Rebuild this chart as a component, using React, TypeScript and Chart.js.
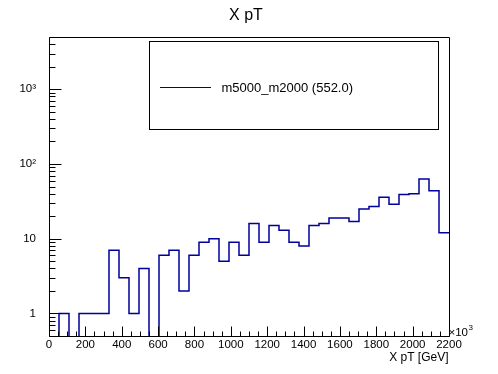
import React, { useEffect, useRef } from "react";
import { Chart, registerables } from "chart.js";

Chart.register(...registerables);

// ---- data ----
const X_MIN = 0;
const X_MAX = 2200;
const BIN_WIDTH = 55;
const binCounts = [
  0, 1, 0, 1, 1, 1, 7, 3, 1, 4,
  0, 6, 7, 2, 6, 9, 10, 5, 9, 6,
  16, 9, 15, 13, 9, 8, 15, 16, 19, 19,
  17, 25, 27, 36, 29, 39, 40, 63, 44, 12,
];
const xTickValues = [0, 200, 400, 600, 800, 1000, 1200, 1400, 1600, 1800, 2000, 2200];
const yTickValues = [1, 10, 100, 1000];
const yTickLabels = ["1", "10", "10²", "10³"];
const Y_MIN = 0.5;
const Y_MAX = 5000;
const titleText = "X pT";
const legendLabel = "m5000_m2000 (552.0)";
const xAxisTitle = "X pT [GeV]";
const xExponentBase = "×10";
const xExponent = "3";

const FONT = "'Liberation Sans', Arial, Helvetica, sans-serif";
const HIST_COLOR = "#00009c";

const rootDecor = {
  id: "rootDecor",
  afterDraw(chart: any) {
    const { ctx, chartArea: a, scales } = chart;
    const xs = scales.x;
    const ys = scales.y;
    ctx.save();
    ctx.strokeStyle = "#000";
    ctx.lineWidth = 1;
    const L = Math.round(a.left) + 0.5;
    const R = Math.round(a.right) + 0.5;
    const T = Math.round(a.top) + 0.5;
    const B = Math.round(a.bottom) + 0.5;
    // frame
    ctx.beginPath();
    ctx.moveTo(L, T);
    ctx.lineTo(R, T);
    ctx.lineTo(R, B);
    ctx.lineTo(L, B);
    ctx.closePath();
    ctx.stroke();
    // x ticks (inward)
    ctx.beginPath();
    for (let v = X_MIN; v <= X_MAX; v += 50) {
      const px = Math.round(xs.getPixelForValue(v)) + 0.5;
      const len = v % 200 === 0 ? 10 : 5;
      ctx.moveTo(px, B);
      ctx.lineTo(px, B - len);
    }
    // y ticks (inward, log)
    for (let d = -1; d <= 3; d++) {
      for (let m = 1; m <= 9; m++) {
        const v = m * Math.pow(10, d);
        if (v < Y_MIN || v > Y_MAX) continue;
        const py = Math.round(ys.getPixelForValue(v)) + 0.5;
        const len = m === 1 ? 12 : 6;
        ctx.moveTo(L, py);
        ctx.lineTo(L + len, py);
      }
    }
    ctx.stroke();

    // title
    ctx.fillStyle = "#000";
    ctx.font = `16px ${FONT}`;
    ctx.textAlign = "center";
    ctx.textBaseline = "alphabetic";
    ctx.fillText(titleText, 246, 20);

    // x axis title
    ctx.font = `12px ${FONT}`;
    ctx.textAlign = "right";
    ctx.fillText(xAxisTitle, R - 1, 361);

    // x10^3
    ctx.font = `11.5px ${FONT}`;
    ctx.textAlign = "left";
    ctx.fillText(xExponentBase, R - 1, 336);
    const w = ctx.measureText(xExponentBase).width;
    ctx.font = `8px ${FONT}`;
    ctx.fillText(xExponent, R - 1 + w + 0.5, 330);

    // legend
    ctx.strokeStyle = "#000";
    ctx.lineWidth = 1;
    ctx.strokeRect(149.5, 41.5, 289, 88);
    ctx.strokeStyle = HIST_COLOR;
    ctx.beginPath();
    ctx.moveTo(160, 87.5);
    ctx.lineTo(211, 87.5);
    ctx.stroke();
    ctx.fillStyle = "#000";
    ctx.font = `13px ${FONT}`;
    ctx.textAlign = "left";
    ctx.textBaseline = "middle";
    ctx.fillText(legendLabel, 221.5, 88);
    ctx.restore();
  },
};

export default function App() {
  const ref = useRef<HTMLCanvasElement | null>(null);
  useEffect(() => {
    if (!ref.current) return;
    const points: { x: number; y: number }[] = binCounts.map((c, i) => ({
      x: X_MIN + i * BIN_WIDTH,
      y: c > 0 ? c : 0.01,
    }));
    points.push({ x: X_MAX, y: binCounts[binCounts.length - 1] });

    const chart = new Chart(ref.current, {
      type: "line",
      data: {
        datasets: [
          {
            label: legendLabel,
            data: points,
            borderColor: HIST_COLOR,
            borderWidth: 1.5,
            stepped: "before",
            pointRadius: 0,
            fill: false,
            tension: 0,
            clip: 0,
          } as any,
        ],
      },
      options: {
        responsive: false,
        animation: false,
        devicePixelRatio: 1,
        layout: { padding: { top: 37, right: 49, left: 0, bottom: 0 } },
        plugins: {
          legend: { display: false },
          tooltip: { enabled: false },
          title: { display: false },
        },
        scales: {
          x: {
            type: "linear",
            min: X_MIN,
            max: X_MAX,
            grid: { display: false },
            border: { display: false },
            afterBuildTicks: (s: any) => {
              s.ticks = xTickValues.map((v) => ({ value: v }));
            },
            afterFit: (s: any) => {
              s.height = 38;
            },
            ticks: {
              autoSkip: false,
              maxRotation: 0,
              minRotation: 0,
              padding: -6,
              color: "#000",
              font: { family: FONT, size: 11.5 },
              callback: (v: any) => String(v),
            },
          },
          y: {
            type: "logarithmic",
            min: Y_MIN,
            max: Y_MAX,
            grid: { display: false },
            border: { display: false },
            afterBuildTicks: (s: any) => {
              s.ticks = yTickValues.map((v) => ({ value: v }));
            },
            afterFit: (s: any) => {
              s.width = 49;
            },
            ticks: {
              autoSkip: false,
              padding: 5,
              color: "#000",
              font: { family: FONT, size: 11.5 },
              callback: (v: any) => {
                const i = yTickValues.indexOf(Number(v));
                return i >= 0 ? yTickLabels[i] : "";
              },
            },
          },
        },
      },
      plugins: [rootDecor],
    });
    return () => chart.destroy();
  }, []);

  return (
    <div style={{ position: "absolute", left: 0, top: 0, width: 498, height: 374, background: "#fff" }}>
      <canvas ref={ref} width={498} height={374} style={{ display: "block" }} />
    </div>
  );
}
